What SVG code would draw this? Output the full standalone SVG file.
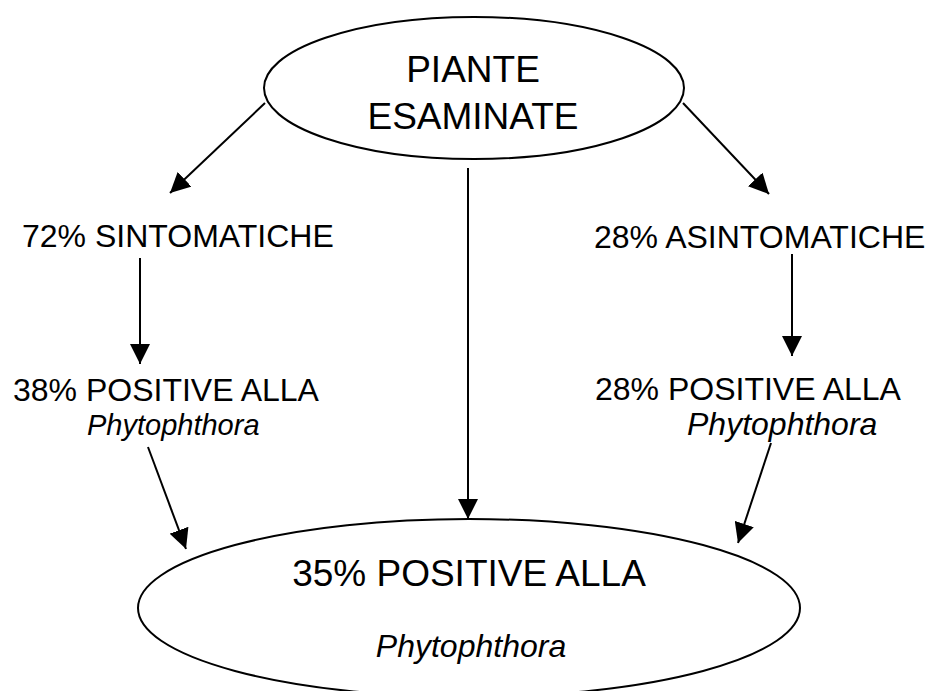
<svg xmlns="http://www.w3.org/2000/svg" width="932" height="691" viewBox="0 0 932 691">
<style>
.t{font-family:"Liberation Sans",Arial,sans-serif;fill:#000}
.s{font-size:32px}
.b{font-size:37px}
.i{font-style:italic}
.e{fill:#fff;stroke:#000;stroke-width:2}
.c line{stroke:#000;stroke-width:2;marker-end:url(#ah)}
</style>
<defs>
<marker id="ah" markerUnits="userSpaceOnUse" markerWidth="20" markerHeight="20" refX="20" refY="10" orient="auto" viewBox="0 0 20 20">
<path d="M0,0 L20,10 L0,20 z" fill="#000"/>
</marker>
</defs>
<rect width="932" height="691" fill="#fff"/>
<g id="n-piante">
<ellipse class="e" cx="474" cy="88" rx="210" ry="71"/>
<text class="t b" x="473" y="82" text-anchor="middle">PIANTE</text>
<text class="t b" x="473" y="129" text-anchor="middle">ESAMINATE</text>
</g>
<g id="n-sint">
<text class="t s" x="22" y="247">72% SINTOMATICHE</text>
</g>
<g id="n-asint">
<text class="t s" x="594" y="248">28% ASINTOMATICHE</text>
</g>
<g id="n-pos38">
<text class="t s" x="13" y="401">38% POSITIVE ALLA</text>
<text class="t i" style="font-size:29px" x="87" y="435">Phytophthora</text>
</g>
<g id="n-pos28">
<text class="t s" x="595" y="400">28% POSITIVE ALLA</text>
<text class="t s i" x="687" y="435">Phytophthora</text>
</g>
<g id="n-pos35">
<ellipse class="e" cx="469" cy="608" rx="331" ry="89"/>
<text class="t b" x="469" y="586" text-anchor="middle">35% POSITIVE ALLA</text>
<text class="t s i" x="471" y="657" text-anchor="middle">Phytophthora</text>
</g>
<g class="c" id="connectors">
<line x1="265" y1="103" x2="170" y2="193"/>
<line x1="683" y1="103" x2="769" y2="194"/>
<line x1="468" y1="168" x2="468" y2="519"/>
<line x1="140" y1="258" x2="140" y2="364"/>
<line x1="792" y1="254" x2="792" y2="356"/>
<line x1="148" y1="447" x2="186" y2="549"/>
<line x1="771" y1="443" x2="738" y2="543"/>
</g>
</svg>
